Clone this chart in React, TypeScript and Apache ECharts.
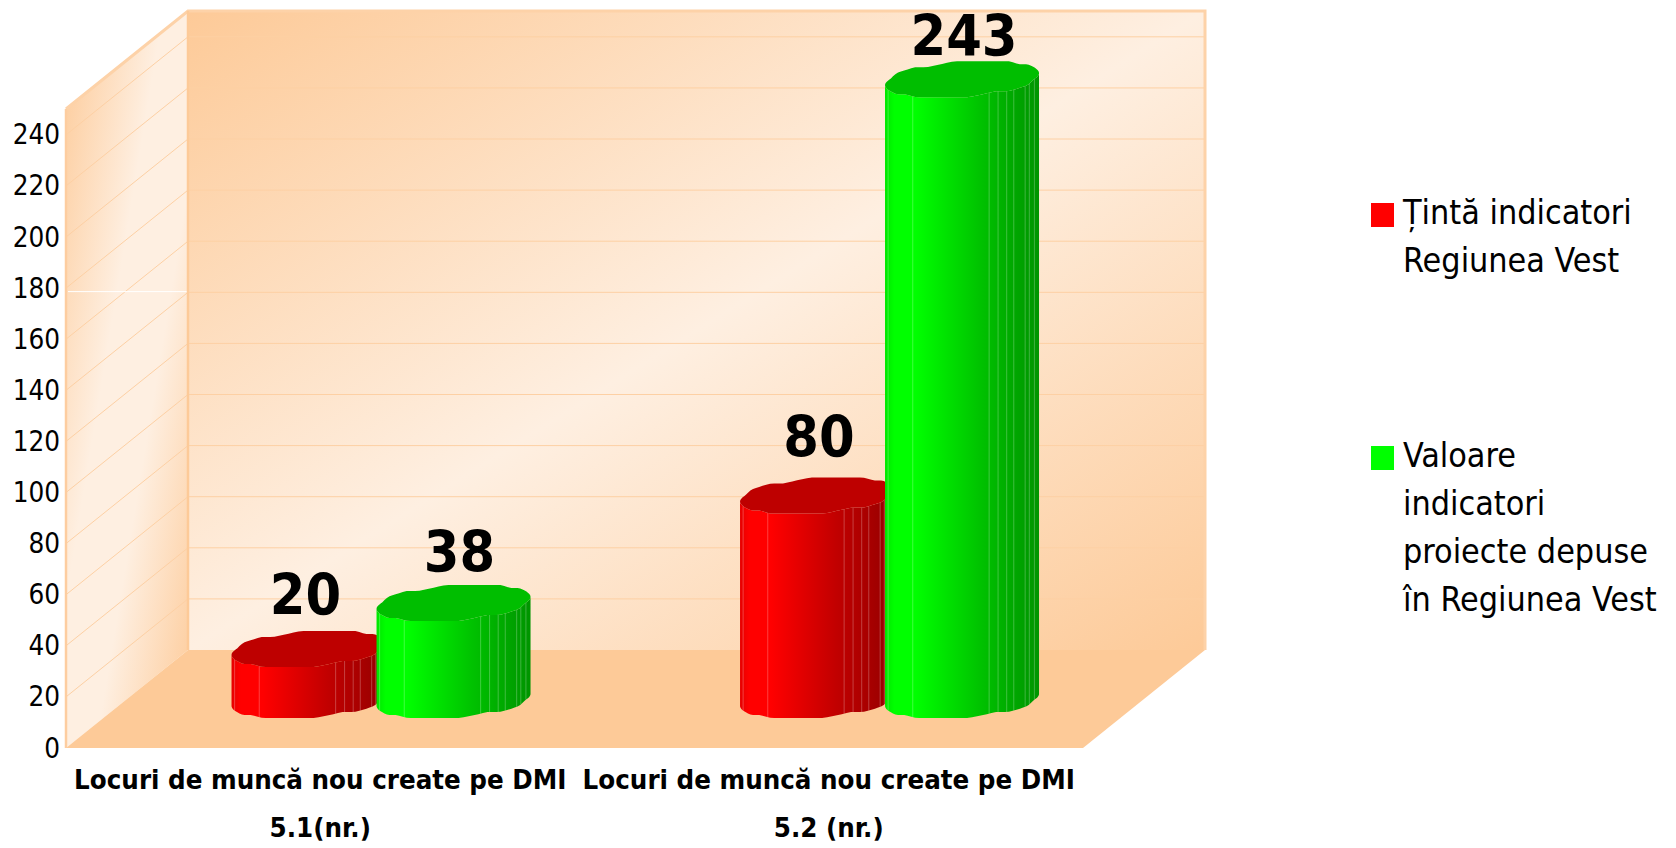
import React, { useEffect, useRef } from "react";
import * as echarts from "echarts";

const categories = ["Locuri de muncă nou create pe DMI\n5.1(nr.)", "Locuri de muncă nou create pe DMI\n5.2 (nr.)"];
const targetValues = [20, 80];
const actualValues = [38, 243];
const yTicks = [0, 20, 40, 60, 80, 100, 120, 140, 160, 180, 200, 220, 240];
const legendLabels = ["Țintă indicatori\nRegiunea Vest", "Valoare\nindicatori\nproiecte depuse\nîn Regiunea Vest"];
const seriesNames = ["Țintă indicatori Regiunea Vest", "Valoare indicatori proiecte depuse în Regiunea Vest"];

const FONT = "'DejaVu Sans Condensed', 'DejaVu Sans', sans-serif";
const DEPTH_X = 122;
const DEPTH_Y = -98;
const WALL = "#fdca98";
const LIGHT = "#feefe1";
const GRID_LINE = "#fdd0a4";
const BASE_DEPTH = 0.49;
const HALF_W = 77;
const DISC_H = 18.7;
const THETA0 = Math.atan(23.3 / 73.4);
const COARSE = 17;
const SEGMENTS = 48;
const SEAMS = [0.02, 0.18, 0.676, 0.734, 0.79, 0.836, 0.91, 0.937, 0.97];
const LABEL_LIFT = [[54, 59], [51, 43.5]];
const LABEL_SHIFT = [[-3, 2], [6, 2]];
const SHADE_STOPS = [[0, 0.9], [0.06, 1], [0.2, 1], [0.62, 0.76], [1, 0.58]];

function coarsePoint(i: number) {
  const phi = (Math.PI * i) / COARSE;
  const y = -DISC_H * Math.sin(phi + THETA0);
  return [HALF_W * Math.cos(phi), Math.round(y / 3) * 3];
}
function discPoint(phi: number, cx: number, cy: number) {
  const t = (phi * COARSE) / Math.PI;
  const i = Math.floor(t);
  const a = coarsePoint(i);
  const b = coarsePoint(i + 1);
  const k = t - i;
  return [cx + HALF_W * Math.cos(phi), cy + a[1] + k * (b[1] - a[1])];
}
function color(rgb: number[], k: number) {
  return `rgb(${Math.round(rgb[0] * k)},${Math.round(rgb[1] * k)},${Math.round(rgb[2] * k)})`;
}

function wallsRender(params: any, api: any) {
  const cs = params.coordSys;
  const y0 = api.coord([0, 0])[1];
  const yTop = cs.y + 1;
  const xL = cs.x;
  const xR = cs.x + cs.width;
  const bx = xL + DEPTH_X;
  const brx = xR + DEPTH_X;
  const children: any[] = [];
  children.push({
    type: "polygon",
    shape: { points: [[bx, yTop + DEPTH_Y], [brx, yTop + DEPTH_Y], [brx, y0 + DEPTH_Y], [bx, y0 + DEPTH_Y]] },
    style: {
      fill: new echarts.graphic.LinearGradient(0, 0, 1, 1, [
        { offset: 0, color: WALL },
        { offset: 0.5, color: LIGHT },
        { offset: 1, color: WALL },
      ]),
    },
  });
  children.push({
    type: "polygon",
    shape: { points: [[xL, yTop], [bx, yTop + DEPTH_Y], [bx, y0 + DEPTH_Y], [xL, y0]] },
    style: {
      fill: new echarts.graphic.LinearGradient(0, 0, 1, 1, [
        { offset: 0, color: WALL },
        { offset: 0.4, color: LIGHT },
        { offset: 0.62, color: LIGHT },
        { offset: 1, color: WALL },
      ]),
    },
  });
  yTicks.forEach((t) => {
    if (t === 0) return;
    const y = api.coord([0, t])[1];
    children.push({
      type: "polyline",
      shape: { points: [[xL, y], [bx, y + DEPTH_Y], [brx, y + DEPTH_Y]] },
      style: { fill: "none", stroke: GRID_LINE, lineWidth: 1 },
    });
  });
  children.push({
    type: "polygon",
    shape: { points: [[xL, y0], [xR, y0], [brx, y0 + DEPTH_Y], [bx, y0 + DEPTH_Y]] },
    style: { fill: WALL },
  });
  const y180 = api.coord([0, 180])[1] + 3;
  children.push({
    type: "line",
    shape: { x1: xL + 2, y1: y180 + 0.5, x2: bx, y2: y180 + 0.5 },
    style: { stroke: "#ffffff", lineWidth: 1 },
  });
  children.push({
    type: "polyline",
    shape: { points: [[xL, yTop], [bx, yTop + DEPTH_Y], [brx, yTop + DEPTH_Y], [brx, y0 + DEPTH_Y]] },
    style: { fill: "none", stroke: "#fdd2a8", lineWidth: 3 },
  });
  children.push({
    type: "line",
    shape: { x1: xL, y1: yTop, x2: xL, y2: y0 },
    style: { stroke: "#fdcda0", lineWidth: 2.5 },
  });
  children.push({
    type: "line",
    shape: { x1: bx, y1: yTop + DEPTH_Y, x2: bx, y2: y0 + DEPTH_Y },
    style: { stroke: "#fdca98", lineWidth: 2.5 },
  });
  return { type: "group", children };
}

function cylinderRender(seriesIndex: number, offset: number, rgb: number[]) {
  return (params: any, api: any) => {
    const idx = api.value(0);
    const val = api.value(1);
    const base = api.coord([idx, 0]);
    const top = api.coord([idx, val]);
    const cx = base[0] + DEPTH_X * BASE_DEPTH + offset + 1;
    const by = base[1] + DEPTH_Y * BASE_DEPTH;
    const ty = top[1] + DEPTH_Y * BASE_DEPTH;
    const children: any[] = [];
    const upper: number[][] = [];
    const lower: number[][] = [];
    for (let i = 0; i < SEGMENTS; i++) {
      const phi = Math.PI + (Math.PI * i) / SEGMENTS;
      upper.push(discPoint(phi, cx, ty));
      lower.push(discPoint(phi, cx, by));
    }
    upper.push(discPoint(2 * Math.PI - 1e-6, cx, ty));
    lower.push(discPoint(2 * Math.PI - 1e-6, cx, by));
    children.push({
      type: "polygon",
      shape: { points: upper.concat(lower.slice().reverse()) },
      style: {
        fill: new echarts.graphic.LinearGradient(
          0, 0, 1, 0,
          SHADE_STOPS.map((s) => ({ offset: s[0], color: color(rgb, s[1]) }))
        ),
      },
    });
    SEAMS.forEach((f) => {
      const phi = 2 * Math.PI - Math.acos(2 * f - 1);
      const a = discPoint(phi, cx, ty);
      const b = discPoint(phi, cx, by);
      children.push({
        type: "line",
        shape: { x1: a[0], y1: a[1], x2: b[0], y2: b[1] },
        style: { stroke: "rgba(255,255,255,0.25)", lineWidth: 1 },
      });
    });
    const disc: number[][] = [];
    for (let i = 0; i < SEGMENTS * 2; i++) {
      disc.push(discPoint((2 * Math.PI * i) / (SEGMENTS * 2), cx, ty));
    }
    children.push({
      type: "polygon",
      shape: { points: disc },
      style: { fill: color(rgb, 0.745) },
    });
    children.push({
      type: "text",
      style: {
        text: String(val),
        x: cx + LABEL_SHIFT[seriesIndex][idx],
        y: ty - LABEL_LIFT[seriesIndex][idx],
        align: "center",
        verticalAlign: "middle",
        fontFamily: FONT,
        fontWeight: "bold",
        fontSize: 57,
        fill: "#000000",
      },
    });
    return { type: "group", children };
  };
}

function legendGraphic() {
  const swatches = ["#ff0000", "#00ff00"];
  const tops = [203, 446];
  const textTops = [188, 431];
  const out: any[] = [];
  legendLabels.forEach((label, i) => {
    out.push({ type: "rect", shape: { x: 1371, y: tops[i], width: 23, height: 24 }, style: { fill: swatches[i] } });
    out.push({
      type: "text",
      style: { text: label, x: 1403, y: textTops[i], fontFamily: FONT, fontSize: 33.8, lineHeight: 48, fill: "#000000", verticalAlign: "top" },
    });
  });
  return out;
}

export default function App() {
  const ref = useRef<HTMLDivElement>(null);
  useEffect(() => {
    const chart = echarts.init(ref.current!, null, { renderer: "svg" });
    chart.setOption({
      animation: false,
      backgroundColor: "#ffffff",
      grid: { left: 66, top: 108, width: 1017, height: 640, containLabel: false, outerBoundsMode: "none" },
      xAxis: {
        type: "category",
        data: categories,
        axisLine: { show: false },
        axisTick: { show: false },
        axisLabel: { interval: 0, margin: 7, fontFamily: FONT, fontWeight: "bold", fontSize: 27.4, lineHeight: 48, color: "#000000", hideOverlap: false },
      },
      yAxis: {
        type: "value",
        min: 0,
        max: 250.5,
        interval: 20,
        axisLine: { show: false },
        axisTick: { show: false },
        splitLine: { show: false },
        axisLabel: { margin: 6, showMaxLabel: false, fontFamily: FONT, fontSize: 27.6, color: "#000000" },
      },
      series: [
        { type: "custom", name: "walls", silent: true, z: 1, data: [[0, 0]], encode: { x: 0, y: 1 }, renderItem: wallsRender },
        {
          type: "custom",
          name: seriesNames[0],
          z: 2,
          data: targetValues.map((v, i) => [i, v]),
          encode: { x: 0, y: 1 },
          renderItem: cylinderRender(0, -72.5, [255, 0, 0]),
        },
        {
          type: "custom",
          name: seriesNames[1],
          z: 3,
          data: actualValues.map((v, i) => [i, v]),
          encode: { x: 0, y: 1 },
          renderItem: cylinderRender(1, 72.5, [0, 255, 0]),
        },
      ],
      graphic: legendGraphic(),
    });
    return () => chart.dispose();
  }, []);
  return <div ref={ref} style={{ position: "fixed", left: 0, top: 0, width: 1676, height: 848 }} />;
}
